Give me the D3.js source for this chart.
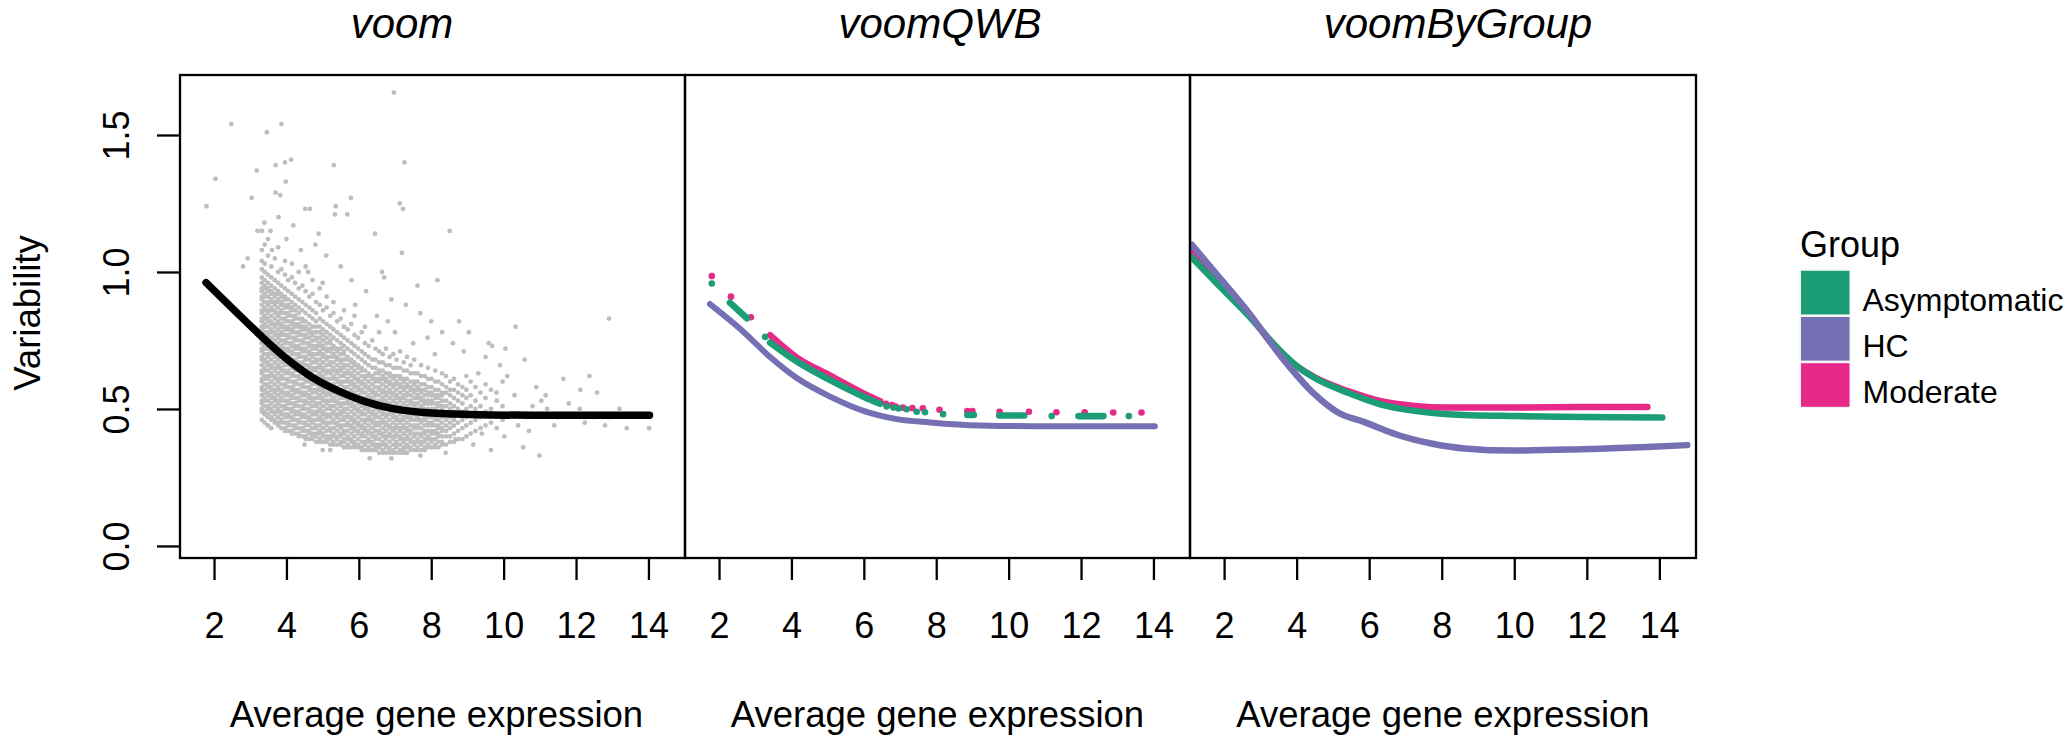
<!DOCTYPE html>
<html>
<head>
<meta charset="utf-8">
<script src="https://cdn.jsdelivr.net/npm/d3@7"></script>
<style>
  html, body { margin: 0; padding: 0; background: #fff; }
  svg { display: block; font-family: "Liberation Sans", Arial, Helvetica, sans-serif; }
</style>
</head>
<body>
<div id="chart"></div>
<script>
// ---------------- data ----------------
const panelTitles = ["voom", "voomQWB", "voomByGroup"];
const xTicks = [2, 4, 6, 8, 10, 12, 14];
const yTicks = [0, 0.5, 1.0, 1.5];
const yTickLabels = ["0.0", "0.5", "1.0", "1.5"];
const xLabel = "Average gene expression";
const yLabel = "Variability";

const groups = ["Asymptomatic", "HC", "Moderate"];
const groupColors = ["#1B9E77", "#7570B3", "#E7298A"];

// voom: gene cloud, one entry per column of genes: [x, [variability in hundredths]]
const voomCloud = [
  [3.32, [46,49,50,52,53,55,57,58,60,61,63,64,66,68,69,71,72,74,75,77,79,80,82,83,85,86,88,90,91,93,94,96,98,101,104,108,115]],
  [3.40, [45,48,49,51,53,54,56,57,59,61,62,64,65,67,68,70,72,73,75,76,78,80,81,83,84,86,87,89,91,92,94,95,97,100,103,110]],
  [3.49, [44,47,48,50,51,53,55,56,58,59,61,62,64,66,67,69,70,72,74,75,77,78,80,82,83,85,86,88,89,91,93,94,96,99,106,112]],
  [3.58, [43,46,47,49,50,52,54,55,57,58,60,62,63,65,66,68,70,71,73,74,76,78,79,81,82,84,86,87,89,90,92,93,95,98,102]],
  [3.68, [45,46,48,49,51,53,54,56,57,59,61,62,64,65,67,69,70,72,73,75,77,78,80,81,83,85,86,88,89,91,92,94,97,105]],
  [3.77, [44,45,47,49,50,52,53,55,57,58,60,61,63,65,66,68,69,71,73,74,76,77,79,81,82,84,85,87,89,90,92,93,96,100,109]],
  [3.86, [43,45,46,48,49,51,53,54,56,57,59,61,62,64,65,67,69,70,72,73,75,77,78,80,81,83,85,86,88,89,91,92,95,101]],
  [3.96, [42,43,45,47,48,50,51,53,55,56,58,59,61,63,64,66,67,69,71,72,74,75,77,79,80,82,83,85,87,88,90,91,94,99,104]],
  [4.05, [42,44,45,47,48,50,52,53,55,56,58,60,61,63,64,66,68,69,71,72,74,76,77,79,80,82,84,85,87,88,90,93,97]],
  [4.15, [41,42,44,46,47,49,50,52,54,55,57,58,60,62,63,65,66,68,70,71,73,74,76,78,79,81,82,84,86,87,89,92,98,103]],
  [4.24, [41,43,44,46,48,49,51,52,54,56,57,59,60,62,64,65,67,68,70,72,73,75,76,78,80,81,83,84,86,88,91,96]],
  [4.34, [40,41,43,45,46,48,49,51,53,54,56,57,59,61,62,64,65,67,69,70,72,73,75,77,78,80,81,83,85,87,90,94,100]],
  [4.44, [40,42,43,45,47,48,50,51,53,55,56,58,59,61,63,64,66,67,69,71,72,74,75,77,79,80,82,83,86,89,95]],
  [4.53, [39,40,42,44,45,47,48,50,52,53,55,56,58,60,61,63,64,66,68,69,71,72,74,76,77,79,80,82,85,88,93,102]],
  [4.63, [39,41,42,44,46,47,49,50,52,54,55,57,58,60,62,63,65,66,68,70,71,73,74,76,78,79,81,84,87,91]],
  [4.72, [39,40,41,43,45,46,48,49,51,53,54,56,57,59,61,62,64,65,67,69,70,72,73,75,77,78,80,83,86,92,97]],
  [4.82, [38,40,41,43,44,46,48,49,51,52,54,56,57,59,60,62,64,65,67,68,70,72,73,75,76,78,80,82,85,89]],
  [4.92, [38,39,41,42,44,46,47,49,50,52,54,55,57,58,60,62,63,65,66,68,70,71,73,74,76,78,80,83,88,94]],
  [5.01, [38,40,41,43,45,46,48,49,51,53,54,56,57,59,61,62,64,65,67,69,70,72,73,75,77,79,82,86]],
  [5.11, [38,39,40,42,44,45,47,48,50,52,53,55,56,58,60,61,63,64,66,68,69,71,72,74,76,78,81,87,91]],
  [5.21, [37,39,40,42,43,45,47,48,50,51,53,55,56,58,59,61,63,64,66,67,69,71,72,74,75,77,80,84]],
  [5.30, [37,38,40,41,43,45,46,48,49,51,53,54,56,57,59,61,62,64,65,67,69,70,72,73,76,79,85,89]],
  [5.40, [37,39,40,42,44,45,47,48,50,52,53,55,56,58,60,61,63,64,66,68,69,71,72,75,78,82]],
  [5.50, [37,38,40,41,43,44,46,48,49,51,52,54,56,57,59,60,62,64,65,67,68,70,72,74,77,83]],
  [5.59, [36,38,39,41,42,44,46,47,49,50,52,54,55,57,58,60,62,63,65,66,68,70,71,73,76,80,86]],
  [5.69, [36,37,39,40,42,44,45,47,48,50,52,53,55,56,58,60,61,63,64,66,68,69,72,75,79]],
  [5.79, [36,38,39,41,43,44,46,47,49,51,52,54,55,57,59,60,62,63,65,67,68,71,74,81]],
  [5.88, [36,37,38,40,42,43,45,46,48,50,51,53,54,56,58,59,61,62,64,66,67,70,73,77,84]],
  [5.98, [36,37,39,41,42,44,45,47,49,50,52,53,55,57,58,60,61,63,65,66,69,72,76]],
  [6.08, [35,36,38,40,41,43,44,46,48,49,51,52,54,56,57,59,60,62,64,65,68,71,78]],
  [6.17, [35,37,38,40,42,43,45,46,48,50,51,53,54,56,58,59,61,62,64,67,70,74,80]],
  [6.27, [35,36,38,39,41,42,44,46,47,49,50,52,54,55,57,58,60,62,63,66,69,73]],
  [6.37, [35,37,38,40,41,43,45,46,48,49,51,53,54,56,57,59,61,62,65,68,75]],
  [6.46, [35,36,37,39,40,42,44,45,47,48,50,52,53,55,56,58,60,61,63,65,68,72]],
  [6.56, [34,36,37,39,41,42,44,45,47,49,50,52,53,55,57,58,60,61,63,64,67,71,78]],
  [6.66, [34,35,37,38,40,41,43,45,46,48,49,51,53,54,56,57,59,61,62,64,67,70]],
  [6.75, [34,36,37,39,40,42,44,45,47,48,50,52,53,55,56,58,60,61,63,66,72]],
  [6.85, [34,35,36,38,40,41,43,44,46,48,49,51,52,54,56,57,59,60,62,63,66,69]],
  [6.95, [34,35,37,39,40,42,43,45,47,48,50,51,53,55,56,58,59,61,62,65,70]],
  [7.04, [34,36,37,38,40,41,43,44,46,47,49,51,52,54,55,57,59,60,62,65,68]],
  [7.14, [34,35,37,39,40,42,43,45,46,48,50,51,53,54,56,58,59,61,62,65,71]],
  [7.24, [34,35,36,38,39,41,43,44,46,47,49,50,52,54,55,57,58,60,61,64,67]],
  [7.33, [34,36,37,39,40,42,43,45,47,48,50,51,53,55,56,58,59,61,64,69]],
  [7.43, [35,36,38,39,41,42,44,46,47,49,50,52,53,55,57,58,60,63,66]],
  [7.53, [35,37,38,40,41,43,44,46,48,49,51,52,54,56,57,59,60,63,68]],
  [7.62, [35,36,38,39,41,43,44,46,47,49,50,52,54,55,57,58,60,63]],
  [7.72, [35,37,38,40,41,43,45,46,48,49,51,53,54,56,57,59,62,66]],
  [7.82, [35,36,38,39,41,42,44,46,47,49,50,52,53,55,57,59,62]],
  [7.91, [36,37,39,40,42,44,45,47,48,50,52,53,55,56,58,61,65]],
  [8.01, [36,38,39,41,42,44,45,47,49,50,52,53,55,56,58,61]],
  [8.11, [36,37,39,41,42,44,46,47,49,50,52,54,55,57,60,64]],
  [8.20, [36,38,40,41,43,44,46,48,49,51,52,54,55,57,60]],
  [8.30, [37,38,40,42,43,45,47,48,50,51,53,55,56,59,63]],
  [8.41, [37,40,42,44,46,48,51,53,56,58,62]],
  [8.52, [38,40,43,45,47,50,52,55,57,60]],
  [8.63, [38,41,44,46,49,51,54,57,61]],
  [8.74, [39,42,45,48,50,53,56,59]],
  [8.86, [39,43,46,49,52,55,58]],
  [8.97, [40,44,47,50,54,57,62]],
  [9.09, [41,45,48,51,55,60]],
  [9.22, [42,46,50,53,58]],
  [9.36, [43,47,51,56]],
  [9.50, [44,49,54,59]],
  [9.65, [45,50,57]],
  [9.81, [43,48,53]],
  [9.97, [46,51,60]]
];

// voom: isolated genes away from the cloud [x, variability]
const voomOutliers = [
  [6.97,1.655],[2.48,1.54],[3.86,1.54],[3.46,1.51],[2.04,1.34],[1.79,1.24],[3.18,1.37],
  [3.70,1.39],[3.96,1.40],[4.13,1.41],[3.98,1.33],[5.31,1.39],[7.26,1.40],[3.04,1.27],
  [3.70,1.29],[3.83,1.28],[7.13,1.25],[7.22,1.23],[5.36,1.24],[5.78,1.27],[5.34,1.21],
  [5.68,1.21],[4.52,1.23],[4.65,1.23],[8.51,1.15],[6.45,1.14],[7.19,1.07],[8.17,0.97],
  [7.62,0.95],[6.64,1.00],[6.70,0.98],[2.80,1.02],[2.93,1.05],[3.20,1.15],[3.39,1.18],
  [3.56,1.15],[3.78,1.20],[4.19,1.17],[4.89,1.14],[10.33,0.80],[12.91,0.83],[9.68,0.73],
  [10.05,0.72],[10.58,0.68],[8.77,0.82],[9.04,0.78],[9.59,0.74],[11.65,0.61],[12.37,0.62],
  [12.58,0.56],[12.12,0.57],[11.16,0.55],[11.04,0.53],[11.20,0.50],[11.63,0.48],[12.24,0.45],
  [12.80,0.44],[14.02,0.43],[10.99,0.33],[10.54,0.36],[9.65,0.35],[10.02,0.40],[9.16,0.37],
  [8.67,0.39],[10.3,0.55],[10.6,0.47],[10.9,0.58],[11.4,0.44],[10.1,0.62],[9.9,0.66],
  [10.7,0.42],[11.8,0.52],[12.5,0.47],[13.2,0.50],[12.9,0.47],[13.4,0.43],[9.3,0.63],
  [9.5,0.69],[8.9,0.71],[8.6,0.74],[8.3,0.78],[8.0,0.82],[7.7,0.85],[7.3,0.88],[6.9,0.90],
  [6.2,0.93],[5.8,0.97],[5.5,1.02],[5.1,1.06],[4.8,1.10],[4.4,1.08],[4.0,1.12],[3.6,1.08],
  [4.6,1.00],[5.0,0.96],[5.9,0.88],[6.5,0.84],[7.0,0.78],[7.5,0.74],[8.1,0.70],[6.8,0.82],
  [7.9,0.76],[5.21,0.35],[6.3,0.32],[6.9,0.32],[7.7,0.33],[8.4,0.34],[5.0,0.35],[4.5,0.37],
  [10.4,0.44],[10.8,0.51],[11.5,0.47],[9.8,0.56],[9.4,0.41],[12.1,0.50]
];

// voom: fitted mean-variance trend
const voomTrend = [
  [1.78,0.961],[2.50,0.868],[3.24,0.774],[3.98,0.686],[4.72,0.615],[5.46,0.564],[6.20,0.526],
  [6.94,0.501],[7.80,0.487],[9.04,0.480],[10.89,0.477],[14.03,0.477]
];

// voomQWB: HC trend
const qwbHC = [
  [1.75,0.883],[2.58,0.793],[3.41,0.690],[4.15,0.613],[5.07,0.545],[5.99,0.493],[6.91,0.463],
  [7.83,0.451],[9.21,0.440],[11.05,0.437],[14.04,0.437]
];
// voomQWB: Asymptomatic, runs of genes and single genes
const qwbAsymRuns = [
  [[2.30,0.888],[2.77,0.831]],
  [[3.41,0.742],[4.15,0.673],[5.07,0.605],[5.99,0.545],[6.45,0.519]],
  [[8.86,0.478],[9.04,0.478]],
  [[9.74,0.476],[10.43,0.476]],
  [[11.93,0.474],[12.62,0.474]]
];
const qwbAsymDots = [
  [1.80,0.958],[3.27,0.763],[6.63,0.509],[6.82,0.505],[6.96,0.502],[7.18,0.499],[7.46,0.490],
  [7.69,0.488],[8.19,0.481],[11.19,0.474],[13.32,0.474]
];
// voomQWB: Moderate
const qwbModRuns = [
  [[3.41,0.769],[4.15,0.687],[5.07,0.622],[5.99,0.557],[6.45,0.528]]
];
const qwbModDots = [
  [1.80,0.985],[2.33,0.910],[2.88,0.835],[6.45,0.523],[6.61,0.519],[6.78,0.514],[6.88,0.509],
  [7.08,0.505],[7.34,0.503],[7.63,0.502],[8.09,0.497],[8.86,0.492],[9.00,0.492],[9.75,0.490],
  [10.56,0.490],[11.32,0.488],[12.10,0.488],[12.89,0.487],[13.67,0.487]
];

// voomByGroup: one trend per group
const byGroupAsym = [
  [1.106,1.054],[1.75,0.965],[2.67,0.841],[3.58,0.708],[4.04,0.653],[4.50,0.613],[5.42,0.559],
  [6.33,0.516],[7.25,0.493],[8.17,0.481],[10.0,0.474],[11.83,0.471],[14.08,0.469]
];
const byGroupHC = [
  [1.106,1.100],[1.75,0.999],[2.67,0.853],[3.58,0.690],[4.50,0.553],[5.14,0.487],[5.87,0.452],
  [6.79,0.405],[7.71,0.374],[8.62,0.356],[10.0,0.348],[11.83,0.353],[13.67,0.361],[14.77,0.368]
];
const byGroupMod = [
  [1.106,1.070],[1.75,0.975],[2.67,0.845],[3.58,0.700],[4.50,0.615],[5.42,0.565],[6.33,0.528],
  [7.25,0.511],[8.17,0.505],[10.0,0.505],[11.83,0.507],[13.67,0.507]
];

// ---------------- layout ----------------
const width = 2066, height = 736;
const panelTop = 75, panelBottom = 558;
const panelLefts = [180, 685, 1190];
const panelWidths = [505, 505, 506];
const titleCenters = [402, 940, 1458];
const fontFamily = '"Liberation Sans", Arial, Helvetica, sans-serif';

const svg = d3.select('#chart').append('svg')
  .attr('width', width)
  .attr('height', height);

const y = d3.scaleLinear().domain([-0.044, 1.719]).range([panelBottom, panelTop]);

const line = (x, c) => d3.line()
  .x(d => x(d[0]))
  .y(d => y(d[1]))
  .curve(c || d3.curveMonotoneX);

panelLefts.forEach((left, i) => {
  const x = d3.scaleLinear().domain([1.06, 15.01]).range([left, left + panelWidths[i]]);

  // clip
  svg.append('clipPath').attr('id', 'clip' + i)
    .append('rect')
    .attr('x', left).attr('y', panelTop)
    .attr('width', panelWidths[i]).attr('height', panelBottom - panelTop);

  const g = svg.append('g').attr('clip-path', `url(#clip${i})`);

  if (i === 0) {
    let pts = [];
    voomCloud.forEach(col => col[1].forEach(v => pts.push([col[0], v / 100])));
    pts = pts.concat(voomOutliers);

    g.selectAll('circle.gene').data(pts).enter()
      .append('circle')
      .attr('class', 'gene')
      .attr('cx', d => x(d[0]))
      .attr('cy', d => y(d[1]))
      .attr('r', 2.4)
      .attr('fill', '#BEBEBE');

    g.append('path')
      .attr('d', line(x)(voomTrend))
      .attr('fill', 'none')
      .attr('stroke', '#000')
      .attr('stroke-width', 7.5)
      .attr('stroke-linecap', 'round');
  }

  if (i === 1) {
    const drawGroup = (runs, dots, color) => {
      runs.forEach(r => {
        g.append('path')
          .attr('d', line(x)(r))
          .attr('fill', 'none')
          .attr('stroke', color)
          .attr('stroke-width', 6.6)
          .attr('stroke-linecap', 'round');
      });
      g.selectAll(null).data(dots).enter()
        .append('circle')
        .attr('cx', d => x(d[0]))
        .attr('cy', d => y(d[1]))
        .attr('r', 3.3)
        .attr('fill', color);
    };
    drawGroup(qwbModRuns, qwbModDots, groupColors[2]);
    drawGroup(qwbAsymRuns, qwbAsymDots, groupColors[0]);

    g.append('path')
      .attr('d', line(x)(qwbHC))
      .attr('fill', 'none')
      .attr('stroke', groupColors[1])
      .attr('stroke-width', 6)
      .attr('stroke-linecap', 'round');
  }

  if (i === 2) {
    [[byGroupMod, groupColors[2]], [byGroupAsym, groupColors[0]], [byGroupHC, groupColors[1]]]
      .forEach(([data, color]) => {
        g.append('path')
          .attr('d', line(x)(data))
          .attr('fill', 'none')
          .attr('stroke', color)
          .attr('stroke-width', 6.5)
          .attr('stroke-linecap', 'round');
      });
  }

  // x axis
  const xAxis = svg.append('g')
    .attr('transform', `translate(0,${panelBottom})`)
    .call(d3.axisBottom(x).tickValues(xTicks).tickSize(22).tickPadding(32));
  xAxis.select('.domain').remove();
  xAxis.selectAll('line').attr('stroke', '#000').attr('stroke-width', 2.3);
  xAxis.selectAll('text')
    .attr('fill', '#000')
    .style('font-family', fontFamily)
    .style('font-size', '36px');

  // y axis only on the first panel
  if (i === 0) {
    const yAxis = svg.append('g')
      .attr('transform', `translate(${left},0)`)
      .call(d3.axisLeft(y).tickValues(yTicks).tickSize(23).tickFormat((d, k) => yTickLabels[k]));
    yAxis.select('.domain').remove();
    yAxis.selectAll('line').attr('stroke', '#000').attr('stroke-width', 2.3);
    yAxis.selectAll('text')
      .attr('x', 0)
      .attr('dy', 0)
      .attr('text-anchor', 'middle')
      .attr('transform', 'translate(-51.5,0) rotate(-90)')
      .attr('fill', '#000')
      .style('font-family', fontFamily)
      .style('font-size', '36px');
  }

  // frame
  svg.append('rect')
    .attr('x', left).attr('y', panelTop)
    .attr('width', panelWidths[i]).attr('height', panelBottom - panelTop)
    .attr('fill', 'none')
    .attr('stroke', '#000')
    .attr('stroke-width', 2.3);

  // title
  svg.append('text')
    .attr('x', titleCenters[i])
    .attr('y', 38)
    .attr('text-anchor', 'middle')
    .style('font-family', fontFamily)
    .style('font-style', 'italic')
    .style('font-size', '42px')
    .text(panelTitles[i]);

  // x label
  svg.append('text')
    .attr('x', left + panelWidths[i] / 2 + (i === 0 ? 4 : 0))
    .attr('y', 727)
    .attr('text-anchor', 'middle')
    .style('font-family', fontFamily)
    .style('font-size', '36.5px')
    .text(xLabel);
});

// y label
svg.append('text')
  .attr('transform', 'translate(40,313) rotate(-90)')
  .attr('text-anchor', 'middle')
  .style('font-family', fontFamily)
  .style('font-size', '36.5px')
  .text(yLabel);

// legend
const legend = svg.append('g').attr('transform', 'translate(1800,0)');
legend.append('text')
  .attr('x', 0).attr('y', 257)
  .style('font-family', fontFamily)
  .style('font-size', '36px')
  .text('Group');

const items = legend.selectAll('.legend-item').data(groups).enter()
  .append('g')
  .attr('class', 'legend-item')
  .attr('transform', (d, k) => `translate(0,${269.5 + k * 46.2})`);
items.append('rect')
  .attr('x', -0.5).attr('y', 0)
  .attr('width', 51).attr('height', 46.2)
  .attr('fill', '#F2F2F2');
items.append('rect')
  .attr('x', 1).attr('y', 1.3)
  .attr('width', 48.5).attr('height', 43.6)
  .attr('fill', (d, k) => groupColors[k]);
items.append('text')
  .attr('x', 62.5).attr('y', 41)
  .style('font-family', fontFamily)
  .style('font-size', '32px')
  .text(d => d);
</script>
</body>
</html>
